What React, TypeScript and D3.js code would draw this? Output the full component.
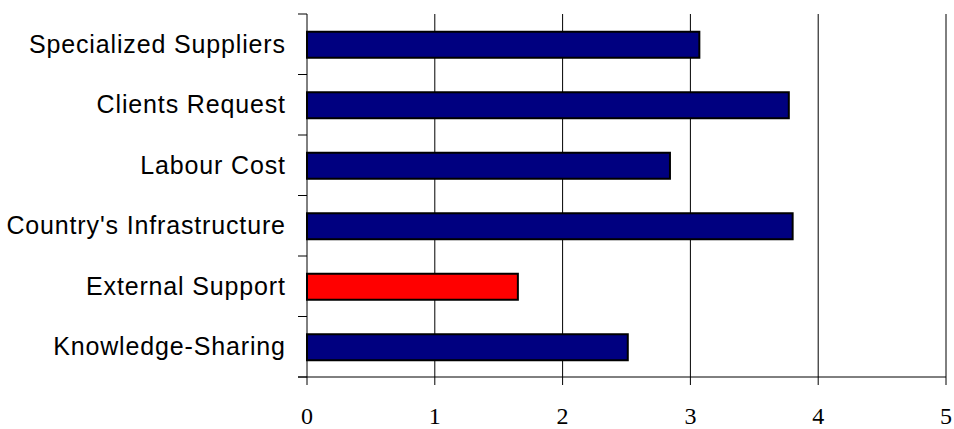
import React from "react";
import * as d3 from "d3";

const categories = [
  "Specialized Suppliers",
  "Clients Request",
  "Labour Cost",
  "Country's Infrastructure",
  "External Support",
  "Knowledge-Sharing",
];
const values = [3.07, 3.77, 2.84, 3.8, 1.65, 2.51];
const highlighted = ["External Support"];
const xTicks = [0, 1, 2, 3, 4, 5];

export default function App() {
  const W = 954;
  const H = 429;
  const x = d3.scaleLinear().domain([0, 5]).range([307, 946]);
  const y = d3.scaleBand().domain(categories).range([14, 377]).paddingInner(0).paddingOuter(0);
  const barH = 26;
  const top = 14;
  const bottom = 377;
  const boundaries = d3.range(categories.length + 1).map((i) => top + (i * (bottom - top)) / categories.length);
  const ls = 0.85;

  return (
    <svg width={W} height={H} style={{ position: "absolute", left: 0, top: 0, background: "#fff" }}>
      {xTicks.slice(1).map((t) => (
        <line key={"g" + t} x1={x(t)} x2={x(t)} y1={top} y2={385} stroke="#000" strokeWidth={1} />
      ))}
      <line x1={x(0)} x2={x(0)} y1={bottom} y2={385} stroke="#000" strokeWidth={1} />
      <line x1={x(0)} x2={x(0)} y1={top} y2={bottom} stroke="#000" strokeWidth={1} />
      {boundaries.map((b, i) => (
        <line key={"t" + i} x1={298} x2={x(0)} y1={b} y2={b} stroke="#000" strokeWidth={1} />
      ))}
      <line x1={298} x2={x(5)} y1={bottom} y2={bottom} stroke="#000" strokeWidth={1} />
      {categories.map((c, i) => {
        const cy = (y(c) as number) + y.bandwidth() / 2;
        return (
          <rect
            key={c}
            x={x(0)}
            y={cy - barH / 2 + 0.5}
            width={x(values[i]) - x(0)}
            height={barH}
            fill={highlighted.includes(c) ? "#FF0000" : "#000080"}
            stroke="#000"
            strokeWidth={2}
          />
        );
      })}
      {categories.map((c) => {
        const cy = (y(c) as number) + y.bandwidth() / 2;
        return (
          <text
            key={"l" + c}
            x={285 + ls}
            y={cy + 8.5}
            textAnchor="end"
            fontFamily="'Liberation Sans', Arial, sans-serif"
            fontSize={25}
            letterSpacing={ls}
            fill="#000"
          >
            {c}
          </text>
        );
      })}
      {xTicks.map((t) => (
        <text
          key={"x" + t}
          x={x(t)}
          y={424}
          textAnchor="middle"
          fontFamily="'Liberation Serif', 'Times New Roman', serif"
          fontSize={24}
          fill="#000"
        >
          {t}
        </text>
      ))}
    </svg>
  );
}
